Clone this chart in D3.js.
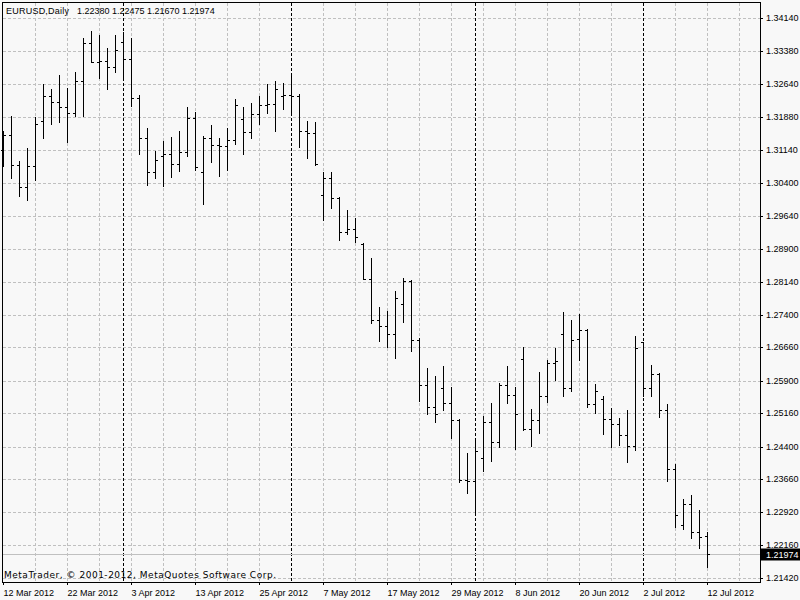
<!DOCTYPE html>
<html>
<head>
<meta charset="utf-8">
<script src="https://cdn.jsdelivr.net/npm/d3@7/dist/d3.min.js"></script>
<style>
  html, body { margin: 0; padding: 0; background: #f8f8f8; }
  svg { display: block; }
  text { font-family: "Liberation Sans", Arial, sans-serif; font-size: 9px; fill: #000; }
</style>
</head>
<body>
<svg id="chart" width="800" height="600"></svg>
<script>
const symbolTitle = "EURUSD,Daily";
const copyright = "MetaTrader, \u00A9 2001-2012, MetaQuotes Software Corp.";

const dates = [
"2012-03-12","2012-03-13","2012-03-14","2012-03-15","2012-03-16","2012-03-19","2012-03-20","2012-03-21","2012-03-22","2012-03-23",
"2012-03-26","2012-03-27","2012-03-28","2012-03-29","2012-03-30","2012-04-02","2012-04-03","2012-04-04","2012-04-05","2012-04-06",
"2012-04-09","2012-04-10","2012-04-11","2012-04-12","2012-04-13","2012-04-16","2012-04-17","2012-04-18","2012-04-19","2012-04-20",
"2012-04-23","2012-04-24","2012-04-25","2012-04-26","2012-04-27","2012-04-30","2012-05-01","2012-05-02","2012-05-03","2012-05-04",
"2012-05-07","2012-05-08","2012-05-09","2012-05-10","2012-05-11","2012-05-14","2012-05-15","2012-05-16","2012-05-17","2012-05-18",
"2012-05-21","2012-05-22","2012-05-23","2012-05-24","2012-05-25","2012-05-28","2012-05-29","2012-05-30","2012-05-31","2012-06-01",
"2012-06-04","2012-06-05","2012-06-06","2012-06-07","2012-06-08","2012-06-11","2012-06-12","2012-06-13","2012-06-14","2012-06-15",
"2012-06-18","2012-06-19","2012-06-20","2012-06-21","2012-06-22","2012-06-25","2012-06-26","2012-06-27","2012-06-28","2012-06-29",
"2012-07-02","2012-07-03","2012-07-04","2012-07-05","2012-07-06","2012-07-09","2012-07-10","2012-07-11","2012-07-12"
];

const open = [
1.31149,1.31483,1.30802,1.30302,1.30786,1.31808,1.32369,1.32240,1.32119,1.31983,
1.32710,1.33573,1.33141,1.33164,1.33028,1.33596,1.33209,1.32324,1.31415,1.30643,
1.31013,1.31052,1.30824,1.31104,1.31869,1.30643,1.31415,1.31247,1.31233,1.31370,
1.31847,1.31558,1.31967,1.32171,1.32187,1.32376,1.32399,1.32376,1.31574,1.31529,
1.30120,1.30506,1.30043,1.29280,1.29348,1.29007,1.28212,1.27281,1.27145,1.26963,
1.27651,1.28174,1.26827,1.25811,1.25311,1.25743,1.25402,1.25016,1.23637,1.23624,
1.24146,1.24964,1.24510,1.25811,1.25577,1.26395,1.24796,1.25009,1.25554,1.26304,
1.26970,1.25736,1.26849,1.27060,1.25373,1.25477,1.25039,1.24925,1.24669,1.24419,
1.26772,1.25736,1.26061,1.25243,1.23896,1.22624,1.23108,1.22472,1.22380
];
const high = [
1.31581,1.31915,1.30899,1.31195,1.31883,1.32648,1.32535,1.32853,1.32558,1.32921,
1.33686,1.33852,1.33746,1.33459,1.33761,1.33823,1.33686,1.32399,1.31642,1.31126,
1.31338,1.31444,1.31581,1.32126,1.32012,1.31460,1.31717,1.31422,1.31649,1.32292,
1.32110,1.32210,1.32376,1.32632,1.32717,1.32664,1.32869,1.32414,1.31801,1.31785,
1.30649,1.30649,1.30075,1.29786,1.29589,1.29030,1.28696,1.27583,1.27492,1.27946,
1.28242,1.28189,1.26872,1.26197,1.26016,1.26243,1.25759,1.25032,1.24266,1.24562,
1.25091,1.25402,1.25850,1.26243,1.25750,1.26674,1.25266,1.26090,1.26363,1.26652,
1.27463,1.27288,1.27417,1.27070,1.25827,1.25561,1.25289,1.25062,1.25243,1.26924,
1.26785,1.26265,1.26070,1.25373,1.24001,1.23215,1.23312,1.22956,1.22475
];
const low = [
1.30770,1.30497,1.30088,1.30013,1.30468,1.31406,1.31724,1.31769,1.31331,1.31906,
1.31906,1.33132,1.32769,1.32519,1.32905,1.32755,1.32133,1.31058,1.30338,1.30497,
1.30316,1.30520,1.30656,1.31013,1.30695,1.29923,1.30877,1.30559,1.30679,1.31270,
1.31042,1.31422,1.31724,1.31974,1.31565,1.32065,1.31996,1.31217,1.30952,1.30802,
1.29543,1.29816,1.29089,1.29225,1.29044,1.28205,1.27213,1.26795,1.26658,1.26409,
1.27226,1.26568,1.25432,1.25137,1.24955,1.25227,1.24591,1.23601,1.23342,1.22881,
1.23842,1.24069,1.24396,1.25386,1.24351,1.24782,1.24410,1.24705,1.25418,1.25909,
1.25545,1.25659,1.26363,1.25296,1.25175,1.24682,1.24396,1.24432,1.24046,1.24319,
1.25561,1.25561,1.25068,1.23615,1.22570,1.22524,1.22320,1.22102,1.21670
];
const close = [
1.31483,1.30802,1.30302,1.30786,1.31733,1.32369,1.32240,1.32119,1.31983,1.32701,
1.33573,1.33141,1.33155,1.33028,1.33414,1.33209,1.32324,1.31415,1.30643,1.30915,
1.31052,1.30824,1.31104,1.31869,1.30756,1.31415,1.31247,1.31233,1.31370,1.32171,
1.31558,1.31967,1.32171,1.32187,1.32528,1.32399,1.32376,1.31574,1.31529,1.30820,
1.30506,1.30043,1.29280,1.29348,1.29173,1.28212,1.27281,1.27145,1.26963,1.27781,
1.28174,1.26827,1.25811,1.25311,1.25146,1.25402,1.25016,1.23637,1.23631,1.24305,
1.24964,1.24510,1.25811,1.25577,1.25146,1.24796,1.25009,1.25554,1.26304,1.26356,
1.25736,1.26833,1.27060,1.25373,1.25675,1.25039,1.24925,1.24669,1.24426,1.26645,
1.25736,1.26061,1.25243,1.23896,1.22851,1.23108,1.22472,1.22358,1.21974
];

const priceTicks = [1.34140,1.33380,1.32640,1.31880,1.31140,1.30400,1.29640,1.28900,1.28140,
                    1.27400,1.26660,1.25900,1.25160,1.24400,1.23660,1.22920,1.22160,1.21420];

const svg = d3.select("#chart");
const W = 800, H = 600;
const plot = {left: 2, top: 2, right: 760, bottom: 582};

const parse = d3.timeParse("%Y-%m-%d");
const fmtDate = d3.timeFormat("%-d %b %Y");
const fmtPrice = d3.format(".5f");

const xs = d3.scalePoint().domain(dates).range([3, 707]);
const ys = d3.scaleLinear().domain([1.21420, 1.34140]).range([578, 18]).interpolate(d3.interpolateRound);

svg.append("rect").attr("width", W).attr("height", H).attr("fill", "#f8f8f8");

const grid = svg.append("g").attr("shape-rendering", "crispEdges")
  .attr("stroke", "#c0c0c0").attr("stroke-dasharray", "3,2");
const gstep = xs.step() * 4;
const vx = [];
for (let x = xs(dates[0]) + gstep; x < plot.right; x += gstep) vx.push(x);
grid.selectAll("line.v").data(vx).join("line").attr("class","v")
  .attr("x1", d => d + 0.5).attr("x2", d => d + 0.5)
  .attr("y1", plot.top + 1).attr("y2", plot.bottom);
grid.selectAll("line.h").data(priceTicks).join("line").attr("class","h")
  .attr("x1", plot.left + 1).attr("x2", plot.right)
  .attr("y1", d => ys(d) + 0.5).attr("y2", d => ys(d) + 0.5);

// period separators (first bar of each month)
const sepIdx = dates.map((d, i) => i).filter(i => i > 0 && dates[i].slice(5,7) !== dates[i-1].slice(5,7));
svg.append("g").attr("shape-rendering", "crispEdges")
  .attr("stroke", "#000").attr("stroke-dasharray", "3,2")
  .selectAll("line").data(sepIdx).join("line")
  .attr("x1", i => xs(dates[i]) + 0.5).attr("x2", i => xs(dates[i]) + 0.5)
  .attr("y1", plot.top + 1).attr("y2", plot.bottom);

// current price line
const last = close.length - 1;
svg.append("line").attr("shape-rendering", "crispEdges")
  .attr("stroke", "#c0c0c0")
  .attr("x1", plot.left + 1).attr("x2", plot.right)
  .attr("y1", ys(close[last]) + 0.5).attr("y2", ys(close[last]) + 0.5);

// OHLC bars
const bars = svg.append("g").attr("shape-rendering", "crispEdges").attr("stroke", "#000").attr("stroke-width", 1);
const idx = d3.range(dates.length);
bars.selectAll("line.hl").data(idx).join("line").attr("class","hl")
  .attr("x1", i => xs(dates[i]) + 0.5).attr("x2", i => xs(dates[i]) + 0.5)
  .attr("y1", i => ys(high[i])).attr("y2", i => ys(low[i]) + 1);
bars.selectAll("line.o").data(idx).join("line").attr("class","o")
  .attr("x1", i => xs(dates[i]) - 2).attr("x2", i => xs(dates[i]))
  .attr("y1", i => ys(open[i]) + 0.5).attr("y2", i => ys(open[i]) + 0.5);
bars.selectAll("line.c").data(idx).join("line").attr("class","c")
  .attr("x1", i => xs(dates[i]) + 1).attr("x2", i => xs(dates[i]) + 3)
  .attr("y1", i => ys(close[i]) + 0.5).attr("y2", i => ys(close[i]) + 0.5);

// frame
svg.append("rect").attr("shape-rendering", "crispEdges")
  .attr("x", plot.left + 0.5).attr("y", plot.top + 0.5)
  .attr("width", plot.right - plot.left).attr("height", plot.bottom - plot.top)
  .attr("fill", "none").attr("stroke", "#000");

// price axis
const yAxis = d3.axisRight(ys).tickValues(priceTicks).tickSize(3).tickPadding(3).tickFormat(fmtPrice);
const gy = svg.append("g").attr("transform", `translate(${plot.right},0)`).call(yAxis);
gy.select(".domain").remove();
gy.selectAll("line").attr("stroke", "#000").attr("shape-rendering", "crispEdges");
gy.selectAll("text").attr("font-family", null).attr("font-size", null).attr("fill", "#000");

// time axis
const tickDates = dates.filter((d, i) => i % 8 === 0);
const xAxis = d3.axisBottom(xs).tickValues(tickDates).tickSize(3).tickPadding(5)
  .tickFormat(d => fmtDate(parse(d)));
const gx = svg.append("g").attr("transform", `translate(0,${plot.bottom})`).call(xAxis);
gx.select(".domain").remove();
gx.selectAll("line").attr("stroke", "#000").attr("shape-rendering", "crispEdges");
gx.selectAll("text").attr("font-family", null).attr("font-size", null)
  .attr("fill", "#000").attr("text-anchor", "start").attr("x", 0);

// header & copyright
svg.append("text").attr("x", 6).attr("y", 13.5)
  .attr("textLength", 63).attr("lengthAdjust", "spacing").text(symbolTitle);
svg.append("text").attr("x", 77).attr("y", 13.5)
  .text([open[last], high[last], low[last], close[last]].map(fmtPrice).join(" "));
svg.append("text").attr("x", 4).attr("y", 577.5)
  .style("font-family", "'DejaVu Sans', Verdana, sans-serif")
  .attr("textLength", 272).attr("lengthAdjust", "spacing").text(copyright);

// current price label
const cy = ys(close[last]);
svg.append("rect").attr("x", 761).attr("y", cy - 5.5).attr("width", 39).attr("height", 12).attr("fill", "#000");
svg.append("text").attr("x", 766).attr("y", cy + 4).style("fill", "#fff").text(fmtPrice(close[last]));
</script>
</body>
</html>
